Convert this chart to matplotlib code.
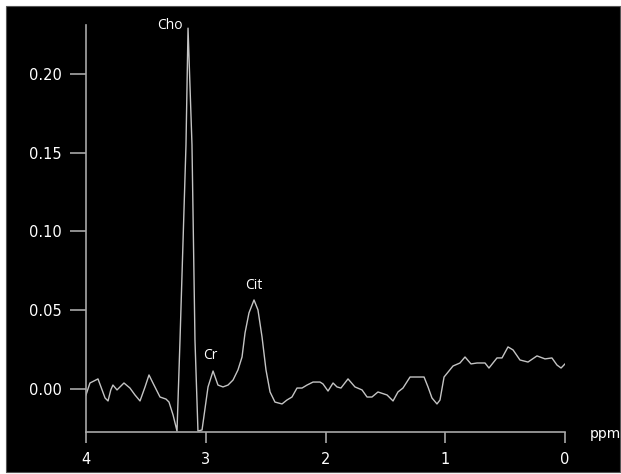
import matplotlib
matplotlib.use("Agg")
from matplotlib import pyplot as plt
from matplotlib.patches import Rectangle

# spectrum: chemical shift (ppm) and amplitude
ppm = [4.000, 3.967, 3.933, 3.900, 3.875, 3.841, 3.816, 3.793, 3.775, 3.741,
       3.716, 3.683, 3.633, 3.591, 3.549, 3.507, 3.474, 3.441, 3.382, 3.332,
       3.307, 3.273, 3.240, 3.215, 3.165, 3.148, 3.115, 3.090, 3.065, 3.031,
       2.981, 2.939, 2.898, 2.856, 2.814, 2.772, 2.731, 2.697, 2.672, 2.639,
       2.597, 2.564, 2.530, 2.497, 2.463, 2.422, 2.363, 2.322, 2.280, 2.238,
       2.196, 2.154, 2.104, 2.046, 2.021, 1.979, 1.937, 1.904, 1.871, 1.812,
       1.754, 1.695, 1.653, 1.612, 1.562, 1.486, 1.436, 1.395, 1.353, 1.294,
       1.236, 1.177, 1.144, 1.111, 1.069, 1.044, 1.010, 0.935, 0.877, 0.835,
       0.785, 0.735, 0.693, 0.668, 0.635, 0.568, 0.526, 0.476, 0.434, 0.376,
       0.309, 0.234, 0.167, 0.109, 0.067, 0.033, 0.000]
amp = [-0.0038, 0.0038, 0.0051, 0.0064, 0.0013, -0.0057, -0.0076, -0.0006, 0.0025, -0.0006,
       0.0013, 0.0038, 0.0006, -0.0038, -0.0076, 0.0013, 0.0089, 0.0038, -0.0051, -0.0064,
       -0.0083, -0.0165, -0.0267, 0.031, 0.155, 0.229, 0.155, 0.031, -0.0267, -0.026,
       0.0013, 0.0114, 0.0025, 0.0013, 0.0025, 0.0057, 0.0121, 0.0203, 0.0356, 0.0483,
       0.0565, 0.0502, 0.033, 0.0121, -0.0019, -0.0083, -0.0095, -0.007, -0.0051, 0.0006,
       0.0006, 0.0025, 0.0044, 0.0044, 0.0032, -0.0013, 0.0038, 0.0013, 0.0006, 0.0064,
       0.0013, -0.0006, -0.0051, -0.0051, -0.0019, -0.0038, -0.0076, -0.0019, 0.0006, 0.0076,
       0.0076, 0.0076, 0.0013, -0.0057, -0.0095, -0.007, 0.0076, 0.0146, 0.0165, 0.0203,
       0.0159, 0.0165, 0.0165, 0.0165, 0.0133, 0.0197, 0.0197, 0.0267, 0.0248, 0.0184,
       0.0171, 0.0210, 0.0191, 0.0197, 0.0152, 0.0133, 0.0159]

peak_names = ["Cho", "Cr", "Cit"]
peak_x = [3.303, 2.960, 2.601]
peak_y = [0.2305, 0.021, 0.0654]

x_ticks = [4, 3, 2, 1, 0]
y_ticks = [0.00, 0.05, 0.10, 0.15, 0.20]

W, H = 621, 474
fig = plt.figure(figsize=(W / 100, H / 100), dpi=100, facecolor="white")
# black panel inside a thin white frame, kept behind the axes
fig.patches.append(Rectangle((6 / W, 2 / H), 614 / W, 466 / H, transform=fig.transFigure,
                             facecolor="black", edgecolor="#555555", lw=0.8, zorder=-10))

ax = fig.add_axes([86 / W, 1 - 432 / H, 479 / W, 407 / H])
ax.set_zorder(5)
ax.set_facecolor("none")
axis_col = "#a8a8a8"

ax.plot(ppm, amp, color="#c4c4c4", lw=1.0)
ax.set_xlim(4, 0)
ax.set_ylim(-0.0273, 0.231)

for side in ["top", "right"]:
    ax.spines[side].set_visible(False)
for side in ["left", "bottom"]:
    ax.spines[side].set_color(axis_col)
    ax.spines[side].set_linewidth(1.2)

ax.set_xticks(x_ticks)
ax.set_xticklabels([str(t) for t in x_ticks])
ax.set_yticks(y_ticks)
ax.set_yticklabels(["%.2f" % t for t in y_ticks])
ax.tick_params(axis="y", length=11.5, width=1.2, color=axis_col, pad=6,
               labelcolor="white", labelsize=10.5)
ax.tick_params(axis="x", length=8, width=1.2, color=axis_col, pad=6.5,
               labelcolor="white", labelsize=10.5)

for name, px, py in zip(peak_names, peak_x, peak_y):
    ax.text(px, py, name, color="white", fontsize=10, family="Open Sans",
            ha="center", va="center", clip_on=False)

fig.text(590 / W, 1 - 434 / H, "ppm", color="white", fontsize=10,
         ha="left", va="center", zorder=6)

fig.savefig("out.png", dpi=100, facecolor="white")
